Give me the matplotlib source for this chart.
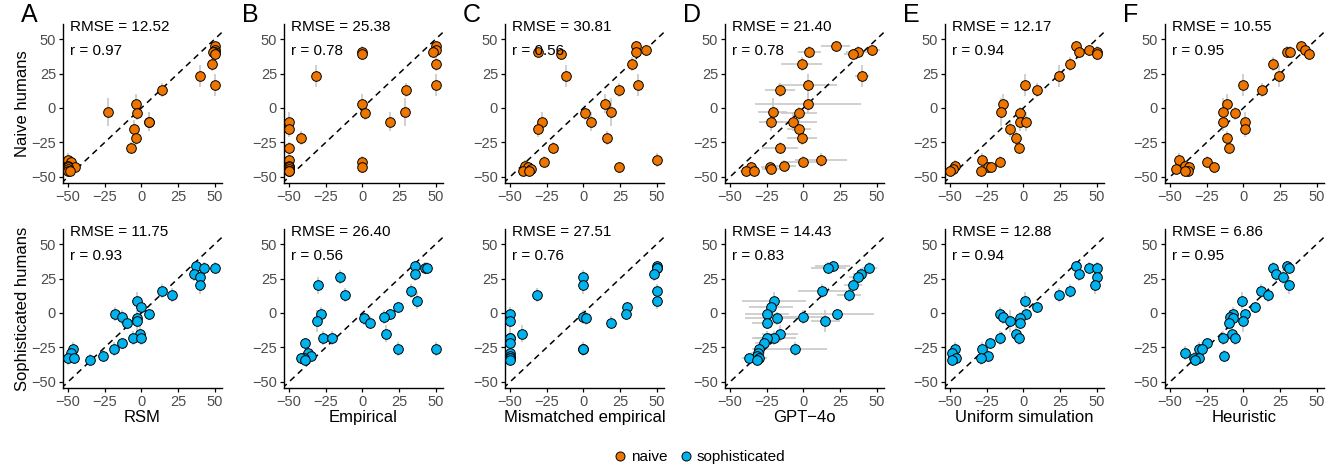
import matplotlib
matplotlib.use("Agg")
import matplotlib.pyplot as plt
from matplotlib.lines import Line2D

plt.rcParams['font.family'] = ['Liberation Sans', 'DejaVu Sans']

models = ["RSM", "Empirical", "Mismatched empirical", "GPT\u22124o", "Uniform simulation", "Heuristic"]
letters = ["A", "B", "C", "D", "E", "F"]

# Naive humans (y shared across model panels)
naive_y = [45, 42, 41, 41, 39, 32, 23, 17, 13, 3, -3, -4, -10, -10, -15, -22, -29, -38, -39, -42, -43, -43, -44, -46, -46]
naive_yerr = [4, 4, 4, 4, 4, 5, 8, 8, 5, 7, 10, 5, 7, 7, 6, 5, 4, 5, 4, 4, 4, 4, 4, 3, 3]
naive_rsm = [50, 50, 50, 49, 50, 48, 40, 50, 14, -4, -23, -3, 5, 5, -5, -4, -7, -50, -48, -50, -45, -50, -50, -50, -49]
naive_emp = [50, 50, 48, 0, 0, 50, -32, 50, 30, 0, 29, 2, -50, 19, -50, -42, -50, -50, 0, -50, 0, -50, -50, -50, -50]
naive_mis = [36, 43, 36, -31, -15, 33, -12, 37, 24, 15, 19, 1, -28, 5, -31, 16, -21, 50, -27, -40, 24, -38, -36, -41, -37]
naive_gpt = [22, 47, 37, 4, 34, -1, 40, 3, -16, 3, -21, -3, -22, -7, -3, -1, -16, 12, 0, -13, -36, -23, -22, -39, -34]
naive_gpt_xerr = [10, 5, 8, 8, 6, 14, 5, 20, 10, 36, 10, 12, 8, 16, 8, 10, 12, 18, 15, 8, 4, 6, 6, 4, 4]
naive_uni = [36, 45, 38, 50, 50, 32, 24, 1, 9, -14, -15, -2, -2, 2, -9, -5, -3, -28, -16, -47, -24, -22, -48, -29, -50]
naive_heu = [39, 42, 30, 32, 45, 20, 24, 0, 13, -11, -14, -6, -14, 1, 1, -11, -10, -44, -25, -40, -37, -20, -46, -38, -40]

# Sophisticated humans
soph_y = [34, 33, 33, 28, 26, 20, 16, 13, 9, 4, -1, -1, -3, -4, -6, -7, -15, -18, -18, -22, -26, -26, -29, -31, -33, -33, -34]
soph_yerr = [4, 4, 4, 5, 5, 6, 5, 5, 6, 4, 5, 4, 5, 5, 8, 5, 6, 5, 5, 4, 5, 5, 5, 4, 5, 4, 4]
soph_rsm = [37, 43, 50, 36, 40, 40, 14, 21, -3, 0, -18, 5, -13, -3, -3, -10, -1, -6, 0, -13, -19, -47, -48, -26, -50, -46, -35]
soph_emp = [36, 43, 44, 36, -15, -30, 33, -12, 37, 24, -28, 19, 15, 1, -31, 5, 16, -27, -21, -39, 24, 50, -37, -35, -40, -42, -39]
soph_mis = [50, 50, 50, 48, 0, 0, 50, -32, 50, 30, -50, 29, 0, 2, -50, 19, -42, -50, -50, -50, 0, 0, -50, -50, -50, -50, -50]
soph_gpt = [20, 17, 45, 39, 37, 34, 13, 31, -20, -22, -25, 23, 0, -18, 15, -25, -16, -20, -25, -27, -6, -30, -31, -32, -30, -37, -32]
soph_gpt_xerr = [12, 12, 5, 5, 6, 6, 17, 8, 22, 15, 15, 25, 15, 22, 10, 10, 12, 15, 8, 6, 22, 5, 5, 5, 5, 5, 5]
soph_uni = [36, 45, 50, 38, 50, 49, 32, 24, 1, 9, -16, 2, -14, -2, -9, -2, -5, -16, -3, -23, -28, -47, -49, -24, -29, -46, -49]
soph_heu = [30, 31, 20, 22, 27, 31, 12, 17, -1, 8, -7, 1, -9, -7, 0, -10, -8, -14, -6, -25, -30, -28, -40, -13, -34, -30, -33]

naive_rmse = ["12.52", "25.38", "30.81", "21.40", "12.17", "10.55"]
naive_r = ["0.97", "0.78", "0.56", "0.78", "0.94", "0.95"]
soph_rmse = ["11.75", "26.40", "27.51", "14.43", "12.88", "6.86"]
soph_r = ["0.93", "0.56", "0.76", "0.83", "0.94", "0.95"]

naive_color = "#EE7600"
soph_color = "#00B2EE"

rows = [
    dict(y=naive_y, yerr=naive_yerr, xs=[naive_rsm, naive_emp, naive_mis, naive_gpt, naive_uni, naive_heu],
         xerr=naive_gpt_xerr, rmse=naive_rmse, r=naive_r, color=naive_color, label="Naive humans"),
    dict(y=soph_y, yerr=soph_yerr, xs=[soph_rsm, soph_emp, soph_mis, soph_gpt, soph_uni, soph_heu],
         xerr=soph_gpt_xerr, rmse=soph_rmse, r=soph_r, color=soph_color, label="Sophisticated humans"),
]

W, H = 1336, 469
fig = plt.figure(figsize=(W / 100, H / 100), dpi=100)

lefts = [63, 284, 505, 725, 945, 1165]
aw = 159
row_tops = [24, 229]
ah = 159

ticks = [-50, -25, 0, 25, 50]
xlim = (-53.5, 55)
ylim = (-54.5, 61)

for ri, row in enumerate(rows):
    for ci in range(6):
        l = lefts[ci] / W
        b = (H - row_tops[ri] - ah) / H
        ax = fig.add_axes([l, b, aw / W, ah / H])
        x = row["xs"][ci]
        y = row["y"]
        # error bars
        ax.errorbar(x, y, yerr=row["yerr"], fmt='none', ecolor='#C8C8C8', elinewidth=1.2, capsize=0, zorder=1)
        if ci == 3:
            ax.errorbar(x, y, xerr=row["xerr"], fmt='none', ecolor='#C8C8C8', elinewidth=1.2, capsize=0, zorder=1)
        ax.plot([-60, 60], [-60, 60], linestyle=(0, (4, 3)), color='black', lw=1.1, zorder=2)
        ax.scatter(x, y, s=48, c=row["color"], edgecolors='black', linewidths=0.7, zorder=3)
        ax.set_xlim(*xlim)
        ax.set_ylim(*ylim)
        ax.set_xticks(ticks)
        ax.set_yticks(ticks)
        ax.set_xticklabels([f"{t}".replace("-", "\u2212") for t in ticks])
        ax.set_yticklabels([f"{t}".replace("-", "\u2212") for t in ticks])
        for s in ['top', 'right']:
            ax.spines[s].set_visible(False)
        for s in ['left', 'bottom']:
            ax.spines[s].set_linewidth(1.0)
        ax.tick_params(axis='both', length=3, width=0.9, color='black', labelsize=10.5,
                       labelcolor='#4D4D4D', pad=2)
        ax.text(-48.5, 58.5, f"RMSE = {row['rmse'][ci]}", fontsize=11, va='center', ha='left', zorder=5)
        ax.text(-48.5, 41.5, f"r = {row['r'][ci]}", fontsize=11, va='center', ha='left', zorder=5)
        if ci == 0:
            ax.set_ylabel(row["label"], fontsize=12, labelpad=1)
        if ri == 1:
            ax.set_xlabel(models[ci], fontsize=12, labelpad=1)
        if ri == 0:
            fig.text((lefts[ci] - 42) / W, (H - 15) / H, letters[ci], fontsize=18, va='center', ha='left')

handles = [Line2D([0], [0], marker='o', linestyle='none', markerfacecolor=naive_color,
                  markeredgecolor='black', markeredgewidth=0.7, markersize=6.5, label='naive'),
           Line2D([0], [0], marker='o', linestyle='none', markerfacecolor=soph_color,
                  markeredgecolor='black', markeredgewidth=0.7, markersize=6.5, label='sophisticated')]
fig.legend(handles=handles, loc='center', bbox_to_anchor=(698 / W, 1 - 457 / H), ncol=2,
           frameon=False, fontsize=11, handletextpad=0.1, columnspacing=0.6, handlelength=1.2)

fig.savefig("out.png", dpi=100)
